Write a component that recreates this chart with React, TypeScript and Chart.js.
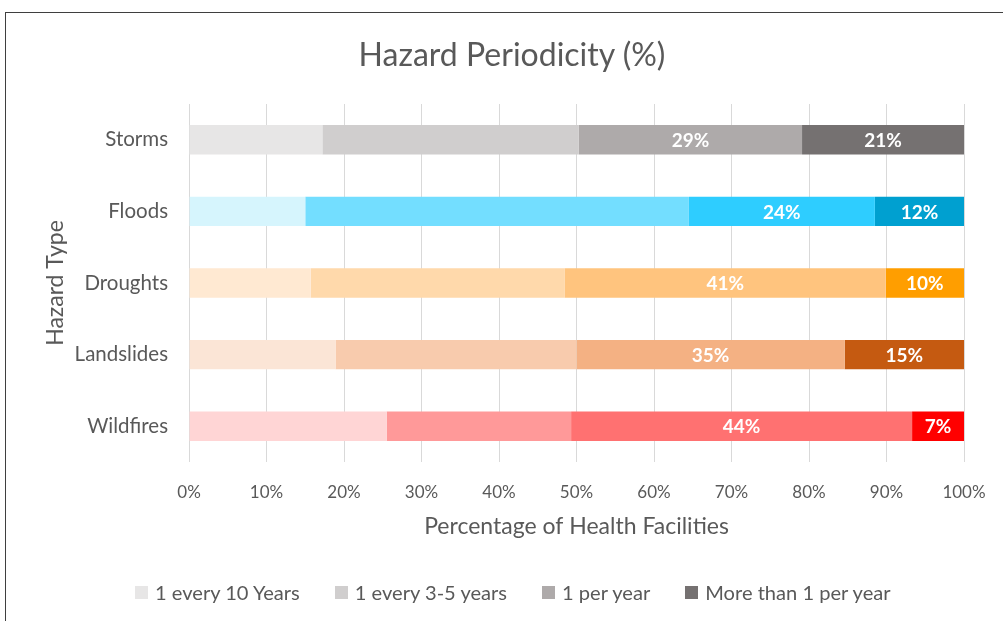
import React, { useEffect, useRef } from "react";
import { Chart, registerables } from "chart.js";

Chart.register(...registerables);

const chartTitle = "Hazard Periodicity (%)";
const categories = ["Storms", "Floods", "Droughts", "Landslides", "Wildfires"];
const seriesNames = ["1 every 10 Years", "1 every 3-5 years", "1 per year", "More than 1 per year"];
const every10Years = [17.2, 15.0, 15.7, 18.9, 25.5];
const every3to5Years = [33.1, 49.5, 32.8, 31.1, 23.8];
const perYear = [28.8, 24.0, 41.4, 34.6, 44.0];
const moreThanOnce = [20.9, 11.5, 10.1, 15.4, 6.7];
const xTickLabels = ["0%", "10%", "20%", "30%", "40%", "50%", "60%", "70%", "80%", "90%", "100%"];

// colours: [series][category]
const palette = [
  ["#E7E6E6", "#D6F5FD", "#FFE9D2", "#FBE5D6", "#FFD5D5"],
  ["#D0CECE", "#73DEFF", "#FFD9AB", "#F8CBAD", "#FF9999"],
  ["#AEAAAA", "#2ECDFF", "#FFC47E", "#F4B183", "#FF7171"],
  ["#757171", "#00A0D0", "#FF9E00", "#C55A11", "#FF0000"],
];
const legendColors = ["#E7E6E6", "#D0CECE", "#AEAAAA", "#757171"];
const labeledSeries = [2, 3];

const FONT = "Lato, 'Open Sans', sans-serif";
const TEXT = "#595959";

const labelPlugin = {
  id: "segLabels",
  afterDatasetsDraw(chart: any) {
    const ctx = chart.ctx;
    ctx.save();
    ctx.fillStyle = "#FFFFFF";
    ctx.font = `bold 19px ${FONT}`;
    ctx.textAlign = "center";
    ctx.textBaseline = "middle";
    labeledSeries.forEach((di) => {
      const meta = chart.getDatasetMeta(di);
      const data = chart.data.datasets[di].data as number[];
      meta.data.forEach((el: any, i: number) => {
        const cx = (el.x + el.base) / 2;
        ctx.fillText(`${Math.round(data[i])}%`, cx, el.y + 1);
      });
    });
    ctx.restore();
  },
};

export default function App() {
  const ref = useRef<HTMLCanvasElement>(null);
  useEffect(() => {
    if (!ref.current) return;
    const all = [every10Years, every3to5Years, perYear, moreThanOnce];
    const chart = new Chart(ref.current, {
      type: "bar",
      data: {
        labels: categories,
        datasets: all.map((d, i) => ({
          label: seriesNames[i],
          data: d,
          backgroundColor: palette[i],
          borderWidth: 0,
          categoryPercentage: 1,
          barPercentage: 0.41,
        })),
      },
      options: {
        indexAxis: "y",
        responsive: false,
        animation: false,
        layout: { padding: { left: 38, right: 39, top: 104, bottom: 81 } },
        plugins: {
          title: { display: false },
          legend: { display: false },
          tooltip: { enabled: false },
        },
        scales: {
          x: {
            stacked: true,
            min: 0,
            max: 100,
            ticks: {
              stepSize: 10,
              color: TEXT,
              font: { family: FONT, size: 17 },
              padding: 0,
              callback: (_v: any, i: number) => xTickLabels[i],
            },
            grid: { color: "#D9D9D9", drawTicks: true, tickLength: 20, tickColor: "rgba(0,0,0,0)" },
            border: { display: false },
            title: {
              display: true,
              text: "Percentage of Health Facilities",
              color: TEXT,
              font: { family: FONT, size: 23 },
              padding: { top: 10, bottom: 0 },
            },
          },
          y: {
            stacked: true,
            ticks: {
              color: TEXT,
              font: { family: FONT, size: 20.5 },
              padding: 21,
            },
            grid: { display: false, drawTicks: false },
            border: { display: false },
            title: {
              display: true,
              text: "Hazard Type",
              color: TEXT,
              font: { family: FONT, size: 23 },
              padding: { top: 4, bottom: -16 },
            },
          },
        },
      },
      plugins: [labelPlugin],
    });
    return () => chart.destroy();
  }, []);
  return (
    <div style={{ position: "fixed", left: 0, top: 0, width: 1003, height: 621, background: "#fff", overflow: "hidden", fontFamily: FONT }}>
      <div
        style={{
          position: "absolute",
          left: 5,
          top: 12,
          width: 1100,
          height: 700,
          borderTop: "1.5px solid #3f3f3f",
          borderLeft: "1.5px solid #3f3f3f",
          boxSizing: "border-box",
        }}
      />
      <canvas ref={ref} width={1003} height={621} style={{ position: "absolute", left: 0, top: 0 }} />
      <div
        style={{
          position: "absolute",
          left: 312,
          width: 400,
          top: 35,
          height: 38,
          lineHeight: "38px",
          textAlign: "center",
          fontSize: 32,
          color: TEXT,
          whiteSpace: "nowrap",
        }}
      >
        {chartTitle}
      </div>
      <div
        style={{
          position: "absolute",
          left: 135,
          top: 580,
          height: 24,
          display: "flex",
          alignItems: "center",
          gap: 35,
          whiteSpace: "nowrap",
        }}
      >
        {seriesNames.map((n, i) => (
          <div key={n} style={{ display: "flex", alignItems: "center", gap: 7 }}>
            <span style={{ display: "inline-block", width: 13, height: 13, background: legendColors[i] }} />
            <span style={{ fontSize: 20.1, color: TEXT, lineHeight: "24px" }}>{n}</span>
          </div>
        ))}
      </div>
    </div>
  );
}
